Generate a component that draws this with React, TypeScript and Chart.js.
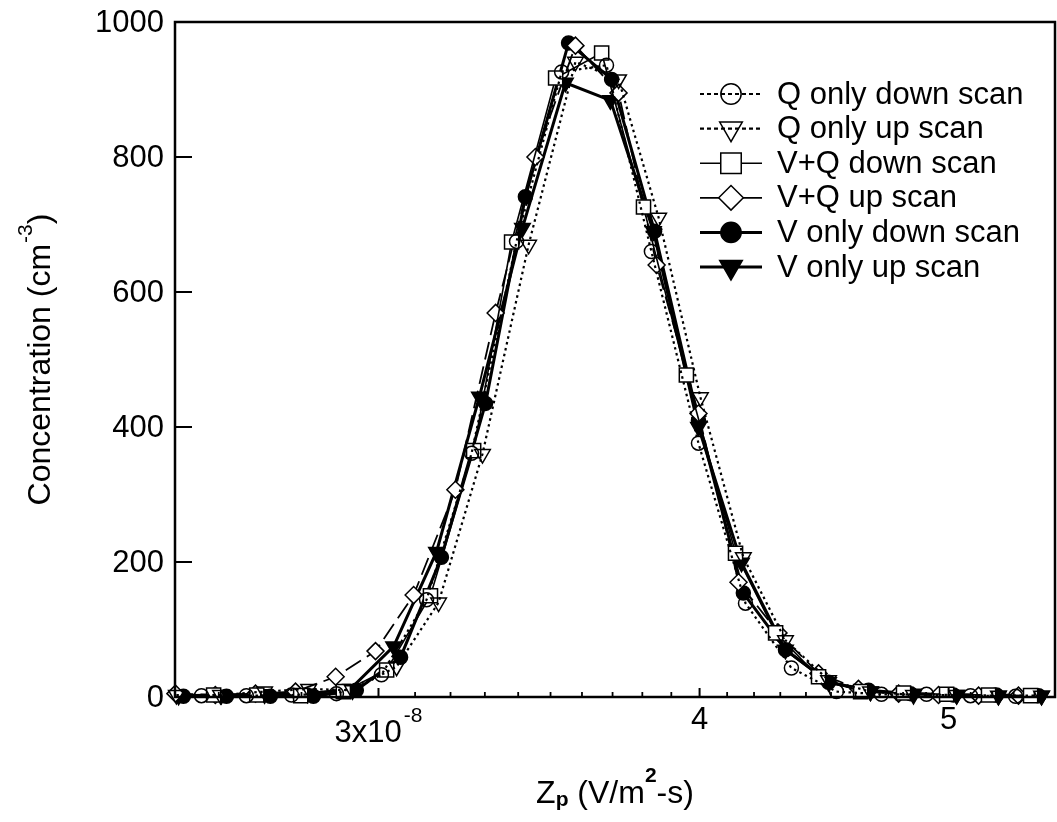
import React, { useEffect, useRef } from 'react';
import { Chart, registerables } from 'chart.js';
import { drawPoint } from 'chart.js/helpers';

Chart.register(...registerables);

const FONT = '"Liberation Sans", Arial, Helvetica, sans-serif';

// Z_p values are in units of 1e-8 V/m^2-s
const seriesNames = [
  'Q only down scan',
  'Q only up scan',
  'V+Q down scan',
  'V+Q up scan',
  'V only down scan',
  'V only up scan',
];

const qDownX = [2.56, 2.665, 2.775, 2.889, 3.008, 3.132, 3.261, 3.395, 3.535, 3.68, 3.831, 3.996, 4.168, 4.343, 4.522, 4.708, 4.902, 5.099, 5.309];
const qDownY = [2, 2, 3, 5, 33, 144, 361, 675, 926, 936, 660, 376, 139, 43, 8, 4, 4, 2, 1];

const qUpX = [2.503, 2.604, 2.709, 2.818, 2.931, 3.049, 3.166, 3.293, 3.432, 3.579, 3.72, 3.856, 4.003, 4.16, 4.32, 4.49, 4.662, 4.845, 5.036, 5.228, 5.434];
const qUpY = [3, 3, 8, 12, 10, 45, 140, 360, 670, 941, 915, 710, 444, 207, 84, 25, 8, 3, 3, 2, 2];

const vqDownX = [2.588, 2.69, 2.798, 2.907, 3.022, 3.143, 3.267, 3.38, 3.516, 3.664, 3.804, 3.953, 4.131, 4.282, 4.45, 4.621, 4.802, 4.991, 5.182, 5.381];
const vqDownY = [3, 3, 2, 8, 40, 150, 365, 674, 917, 954, 726, 477, 213, 95, 30, 8, 6, 4, 3, 2];

const vqUpX = [2.501, 2.592, 2.687, 2.785, 2.887, 2.992, 3.096, 3.214, 3.332, 3.453, 3.579, 3.72, 3.849, 3.996, 4.142, 4.293, 4.45, 4.612, 4.781, 4.955, 5.136, 5.323];
const vqUpY = [5, 3, 5, 8, 30, 68, 151, 307, 569, 800, 965, 895, 640, 420, 170, 95, 35, 12, 5, 3, 2, 2];

const vDownX = [2.519, 2.618, 2.723, 2.83, 2.941, 3.06, 3.174, 3.302, 3.422, 3.557, 3.697, 3.842, 3.996, 4.16, 4.32, 4.49, 4.654, 4.832, 5.022, 5.219, 5.42];
const vDownY = [1, 1, 1, 1, 10, 59, 207, 435, 741, 969, 915, 690, 410, 154, 70, 22, 10, 5, 3, 3, 2];

const vUpX = [2.508, 2.606, 2.709, 2.815, 2.926, 3.041, 3.16, 3.284, 3.413, 3.547, 3.693, 3.838, 3.996, 4.153, 4.32, 4.49, 4.662, 4.845, 5.036, 5.228, 5.434];
const vUpY = [2, 3, 4, 5, 12, 75, 215, 445, 695, 910, 884, 690, 400, 199, 70, 22, 8, 5, 3, 2, 2];

const xMin = 2.5;
const xMax = 5.5;
const yMin = 0;
const yMax = 1000;
const yStep = 200;

const xTickValues = [2.5, 2.6, 2.7, 2.8, 2.9, 3.0, 3.1, 3.2, 3.3, 3.4, 3.5, 3.6, 3.7, 3.8, 3.9, 4.0, 4.1, 4.2, 4.3, 4.4, 4.5, 4.6, 4.7, 4.8, 4.9, 5.0, 5.1, 5.2, 5.3, 5.4, 5.5];
const xMajorTicks = [3, 4, 5];
const xTickLabelBase = ['3x10', '4', '5'];
const xTickLabelExp = ['-8', '', ''];

const yTitleMain = 'Concentration (cm';
const yTitleExp = '-3';
const yTitleEnd = ')';

const xTitleParts = [
  { text: 'Z', kind: 'normal' },
  { text: 'p', kind: 'sub' },
  { text: ' (V/m', kind: 'normal' },
  { text: '2', kind: 'sup' },
  { text: '-s)', kind: 'normal' },
];

// legend line samples: V+Q up is drawn solid in the key
const legendSolid = [false, false, true, true, true, true];

function pts(xs: number[], ys: number[]) {
  return xs.map((x, i) => ({ x, y: ys[i] }));
}

const decorPlugin = {
  id: 'decor',
  afterDraw(chart: any) {
    const { ctx, chartArea: a, scales } = chart;
    const xs = scales.x;
    const ys = scales.y;
    ctx.save();
    ctx.setLineDash([]);
    ctx.strokeStyle = '#000';
    ctx.fillStyle = '#000';

    // frame
    ctx.lineWidth = 2.5;
    ctx.strokeRect(a.left, a.top, a.right - a.left, a.bottom - a.top);

    // y ticks (inward) + labels
    ctx.font = `31px ${FONT}`;
    ctx.textAlign = 'right';
    ctx.textBaseline = 'middle';
    ys.ticks.forEach((t: any) => {
      const py = ys.getPixelForValue(t.value);
      ctx.lineWidth = 2;
      ctx.beginPath();
      ctx.moveTo(a.left, py);
      ctx.lineTo(a.left + 17, py);
      ctx.stroke();
      ctx.fillText(String(t.value), a.left - 11, py + 1);
    });

    // x ticks (inward)
    xs.ticks.forEach((t: any) => {
      const px = xs.getPixelForValue(t.value);
      if (px <= a.left + 2 || px >= a.right - 2) return;
      const major = xMajorTicks.some((m) => Math.abs(m - t.value) < 1e-6);
      ctx.lineWidth = major ? 2 : 1.8;
      ctx.beginPath();
      ctx.moveTo(px, a.bottom);
      ctx.lineTo(px, a.bottom - (major ? 9 : 5));
      ctx.stroke();
    });

    // x tick labels
    ctx.textBaseline = 'alphabetic';
    ctx.textAlign = 'left';
    xMajorTicks.forEach((v, i) => {
      const px = xs.getPixelForValue(v);
      const base = xTickLabelBase[i];
      const exp = xTickLabelExp[i];
      if (exp) {
        ctx.font = `31px ${FONT}`;
        const w1 = ctx.measureText(base).width;
        ctx.font = `21px ${FONT}`;
        const w2 = ctx.measureText(exp).width;
        const total = w1 + w2 + 2;
        const x0 = px - total / 2;
        const baseY = a.bottom + 45;
        ctx.font = `31px ${FONT}`;
        ctx.fillText(base, x0, baseY);
        ctx.font = `21px ${FONT}`;
        ctx.fillText(exp, x0 + w1 + 2, baseY - 20);
      } else {
        ctx.font = `31px ${FONT}`;
        const w1 = ctx.measureText(base).width;
        ctx.fillText(base, px - w1 / 2, a.bottom + 32);
      }
    });

    // y title (rotated)
    {
      ctx.font = `32px ${FONT}`;
      const w1 = ctx.measureText(yTitleMain).width;
      const w3 = ctx.measureText(yTitleEnd).width;
      ctx.font = `21px ${FONT}`;
      const w2 = ctx.measureText(yTitleExp).width;
      const total = w1 + w2 + w3 + 1;
      const cy = (a.top + a.bottom) / 2;
      ctx.save();
      ctx.translate(50, cy);
      ctx.rotate(-Math.PI / 2);
      let x0 = -total / 2;
      ctx.font = `32px ${FONT}`;
      ctx.fillText(yTitleMain, x0, 0);
      x0 += w1;
      ctx.font = `21px ${FONT}`;
      ctx.fillText(yTitleExp, x0 + 1, -18);
      x0 += w2 + 1;
      ctx.font = `32px ${FONT}`;
      ctx.fillText(yTitleEnd, x0, 0);
      ctx.restore();
    }

    // x title
    {
      const fontFor = (k: string) => (k === 'normal' ? `32px ${FONT}` : `bold 21px ${FONT}`);
      let total = 0;
      const widths = xTitleParts.map((p) => {
        ctx.font = fontFor(p.kind);
        const w = ctx.measureText(p.text).width;
        total += w;
        return w;
      });
      const cx = (a.left + a.right) / 2;
      let x0 = cx - total / 2;
      const baseY = a.bottom + 106;
      xTitleParts.forEach((p, i) => {
        ctx.font = fontFor(p.kind);
        const dy = p.kind === 'sub' ? 3 : p.kind === 'sup' ? -21 : 0;
        ctx.fillText(p.text, x0, baseY + dy);
        x0 += widths[i];
      });
    }

    // legend
    {
      const lx0 = a.right - 355;
      const lx1 = a.right - 293;
      const mx = (lx0 + lx1) / 2;
      const tx = a.right - 278;
      const top = a.top + 72;
      const step = 34.6;
      chart.data.datasets.forEach((ds: any, i: number) => {
        const y = top + i * step;
        ctx.setLineDash(legendSolid[i] ? [] : [4, 3]);
        ctx.lineWidth = ds.borderWidth;
        ctx.strokeStyle = '#000';
        ctx.beginPath();
        ctx.moveTo(lx0, y);
        ctx.lineTo(lx1, y);
        ctx.stroke();
        ctx.setLineDash([]);
        ctx.fillStyle = ds.pointBackgroundColor;
        ctx.strokeStyle = '#000';
        ctx.lineWidth = ds.pointBorderWidth;
        drawPoint(ctx, {
          pointStyle: ds.pointStyle,
          radius: ds.pointRadius * 1.45,
          rotation: ds.pointRotation || 0,
          borderWidth: ds.pointBorderWidth,
        } as any, mx, y);
        ctx.fillStyle = '#000';
        ctx.font = `31px ${FONT}`;
        ctx.textBaseline = 'middle';
        ctx.textAlign = 'left';
        ctx.fillText(ds.label, tx, y + 1);
      });
    }
    ctx.restore();
  },
};

export default function App() {
  const ref = useRef<HTMLCanvasElement | null>(null);

  useEffect(() => {
    if (!ref.current) return;
    Chart.defaults.font.family = FONT;
    Chart.defaults.color = '#000';
    const common = { borderColor: '#000', pointBorderColor: '#000', tension: 0, clip: false as any };
    const chart = new Chart(ref.current, {
      type: 'line',
      data: {
        datasets: [
          {
            ...common,
            label: seriesNames[0],
            data: pts(qDownX, qDownY),
            borderWidth: 2.2,
            borderDash: [2.5, 3.5],
            pointStyle: 'circle',
            pointRadius: 7,
            pointBackgroundColor: 'rgba(0,0,0,0)',
            pointBorderWidth: 1.5,
          },
          {
            ...common,
            label: seriesNames[1],
            data: pts(qUpX, qUpY),
            borderWidth: 2.2,
            borderDash: [2.5, 3.5],
            pointStyle: 'triangle',
            pointRotation: 180,
            pointRadius: 9,
            pointBackgroundColor: 'rgba(0,0,0,0)',
            pointBorderWidth: 1.5,
          },
          {
            ...common,
            label: seriesNames[2],
            data: pts(vqDownX, vqDownY),
            borderWidth: 1.6,
            borderDash: [],
            pointStyle: 'rect',
            pointRadius: 10,
            pointBackgroundColor: '#fff',
            pointBorderWidth: 1.5,
          },
          {
            ...common,
            label: seriesNames[3],
            data: pts(vqUpX, vqUpY),
            borderWidth: 1.8,
            borderDash: [18, 7],
            pointStyle: 'rectRot',
            pointRadius: 8.5,
            pointBackgroundColor: '#fff',
            pointBorderWidth: 1.5,
          },
          {
            ...common,
            label: seriesNames[4],
            data: pts(vDownX, vDownY),
            borderWidth: 3,
            borderDash: [],
            pointStyle: 'circle',
            pointRadius: 7,
            pointBackgroundColor: '#000',
            pointBorderWidth: 1.5,
          },
          {
            ...common,
            label: seriesNames[5],
            data: pts(vUpX, vUpY),
            borderWidth: 3,
            borderDash: [],
            pointStyle: 'triangle',
            pointRotation: 180,
            pointRadius: 9,
            pointBackgroundColor: '#000',
            pointBorderWidth: 1.5,
          },
        ],
      },
      options: {
        animation: false,
        responsive: false,
        devicePixelRatio: 1,
        layout: { autoPadding: false, padding: { top: 22, right: 2, left: 0, bottom: 0 } },
        plugins: { legend: { display: false }, tooltip: { enabled: false } },
        scales: {
          x: {
            type: 'logarithmic',
            min: xMin,
            max: xMax,
            grid: { display: false, drawTicks: false },
            border: { display: false },
            ticks: { display: false },
            afterBuildTicks: (scale: any) => {
              scale.ticks = xTickValues.map((v) => ({ value: v }));
            },
            afterFit: (scale: any) => {
              scale.height = 125;
            },
          },
          y: {
            type: 'linear',
            min: yMin,
            max: yMax,
            grid: { display: false, drawTicks: false },
            border: { display: false },
            ticks: { display: false, stepSize: yStep },
            afterFit: (scale: any) => {
              scale.width = 175;
            },
          },
        },
      } as any,
      plugins: [decorPlugin],
    });
    return () => chart.destroy();
  }, []);

  return (
    <div style={{ position: 'fixed', left: 0, top: 0, width: 1057, height: 822, background: '#fff' }}>
      <canvas ref={ref} width={1057} height={822} style={{ display: 'block' }} />
    </div>
  );
}
